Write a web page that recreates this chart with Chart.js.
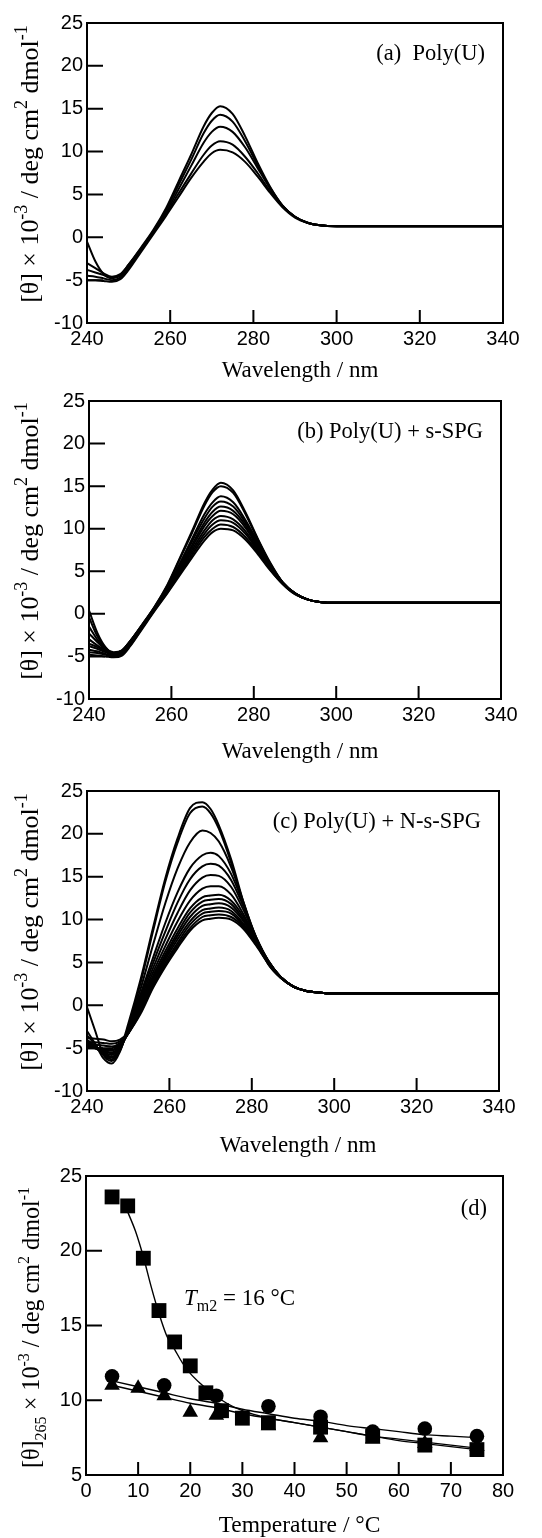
<!DOCTYPE html>
<html>
<head>
<meta charset="utf-8">
<script src="https://cdn.jsdelivr.net/npm/chart.js@4.4.1/dist/chart.umd.min.js"></script>
<style>
  body { margin: 0; background: #fff; }
  canvas { position: absolute; left: 0; }
</style>
</head>
<body>
<canvas id="panelA" width="542" height="385" style="top:0px"></canvas>
<canvas id="panelB" width="542" height="380" style="top:385px"></canvas>
<canvas id="panelC" width="542" height="395" style="top:765px"></canvas>
<canvas id="panelD" width="542" height="378" style="top:1160px"></canvas>
<script>
// wavelength grid shared by all spectra (nm)
const wavelengths = [240, 242, 244, 246, 248, 250, 253, 256, 259, 262, 265, 268, 270, 272, 275, 278, 281, 284, 287, 290, 293, 296, 300, 340];

// (a) Poly(U)
const polyU = [
  [-0.5, -2.8, -4.3, -4.8, -4.4, -3.2, -1.2, 0.9, 3.4, 6.5, 9.6, 12.9, 14.5, 15.3, 14.4, 11.8, 8.7, 5.9, 3.7, 2.4, 1.7, 1.4, 1.3, 1.3],
  [-3.0, -3.6, -4.2, -4.6, -4.3, -3.2, -1.3, 0.8, 3.2, 6.1, 9.0, 12.1, 13.6, 14.3, 13.5, 11.2, 8.4, 5.8, 3.7, 2.4, 1.7, 1.4, 1.3, 1.3],
  [-3.8, -4.1, -4.4, -4.7, -4.5, -3.4, -1.4, 0.7, 2.9, 5.6, 8.3, 11.0, 12.3, 12.9, 12.3, 10.5, 8.1, 5.7, 3.7, 2.4, 1.7, 1.4, 1.3, 1.3],
  [-4.5, -4.6, -4.8, -5.0, -4.7, -3.6, -1.5, 0.6, 2.7, 5.1, 7.4, 9.6, 10.7, 11.2, 10.8, 9.4, 7.5, 5.4, 3.6, 2.4, 1.7, 1.4, 1.3, 1.3],
  [-5.0, -5.0, -5.1, -5.2, -4.9, -3.8, -1.7, 0.4, 2.5, 4.7, 6.9, 8.8, 9.8, 10.2, 9.9, 8.8, 7.1, 5.2, 3.5, 2.3, 1.7, 1.4, 1.3, 1.3]
];

// (b) Poly(U) + s-SPG
const polyU_sSPG = [
  [0.4, -2.2, -3.9, -4.6, -4.3, -3.2, -1.2, 0.9, 3.4, 6.5, 9.7, 13.0, 14.6, 15.4, 14.5, 11.9, 8.8, 6.0, 3.7, 2.4, 1.7, 1.4, 1.3, 1.3],
  [-0.4, -2.6, -4.0, -4.6, -4.3, -3.2, -1.2, 0.9, 3.3, 6.4, 9.5, 12.7, 14.3, 15.0, 14.2, 11.7, 8.7, 5.9, 3.7, 2.4, 1.7, 1.4, 1.3, 1.3],
  [-1.5, -3.0, -4.1, -4.5, -4.3, -3.2, -1.3, 0.8, 3.1, 5.9, 8.8, 11.7, 13.1, 13.8, 13.1, 11.0, 8.4, 5.8, 3.7, 2.4, 1.7, 1.4, 1.3, 1.3],
  [-2.3, -3.3, -4.2, -4.6, -4.4, -3.3, -1.3, 0.8, 3.0, 5.7, 8.5, 11.2, 12.6, 13.2, 12.6, 10.7, 8.2, 5.7, 3.7, 2.4, 1.7, 1.4, 1.3, 1.3],
  [-3.0, -3.7, -4.3, -4.7, -4.5, -3.4, -1.4, 0.7, 2.9, 5.5, 8.1, 10.7, 12.0, 12.6, 12.1, 10.4, 8.0, 5.6, 3.7, 2.4, 1.7, 1.4, 1.3, 1.3],
  [-3.5, -3.9, -4.4, -4.8, -4.6, -3.5, -1.4, 0.7, 2.8, 5.3, 7.8, 10.3, 11.5, 12.1, 11.7, 10.1, 7.8, 5.5, 3.6, 2.4, 1.7, 1.4, 1.3, 1.3],
  [-3.8, -4.1, -4.5, -4.9, -4.6, -3.5, -1.5, 0.6, 2.7, 5.1, 7.5, 9.8, 11.0, 11.5, 11.1, 9.7, 7.6, 5.4, 3.6, 2.4, 1.7, 1.4, 1.3, 1.3],
  [-4.2, -4.4, -4.7, -5.0, -4.7, -3.6, -1.5, 0.6, 2.6, 4.9, 7.2, 9.4, 10.5, 11.0, 10.7, 9.4, 7.4, 5.3, 3.6, 2.4, 1.7, 1.4, 1.3, 1.3],
  [-4.5, -4.6, -4.8, -5.0, -4.8, -3.7, -1.6, 0.5, 2.5, 4.7, 6.9, 9.0, 10.0, 10.5, 10.2, 9.0, 7.2, 5.2, 3.5, 2.3, 1.7, 1.4, 1.3, 1.3],
  [-4.8, -4.9, -5.0, -5.1, -4.9, -3.8, -1.7, 0.4, 2.4, 4.5, 6.6, 8.6, 9.6, 10.0, 9.8, 8.7, 7.0, 5.1, 3.5, 2.3, 1.7, 1.4, 1.3, 1.3]
];

// (c) Poly(U) + N-s-SPG
const polyU_NsSPG = [
  [-0.2, -3.0, -5.8, -6.5, -5.2, -2.2, 3.0, 9.0, 14.8, 19.5, 23.0, 23.7, 22.9, 21.0, 17.0, 12.0, 7.6, 4.8, 3.2, 2.2, 1.7, 1.5, 1.4, 1.4],
  [-3.0, -4.5, -6.2, -6.8, -5.4, -2.5, 2.6, 8.6, 14.4, 19.0, 22.4, 23.2, 22.4, 20.6, 16.6, 11.8, 7.5, 4.8, 3.2, 2.2, 1.7, 1.5, 1.4, 1.4],
  [-3.5, -4.6, -5.8, -6.3, -5.3, -2.7, 1.9, 7.0, 11.9, 16.0, 19.0, 20.4, 20.1, 19.1, 16.1, 12.0, 7.9, 5.0, 3.2, 2.2, 1.7, 1.5, 1.4, 1.4],
  [-4.0, -4.8, -5.7, -6.1, -5.2, -2.8, 1.3, 5.5, 9.6, 13.2, 16.0, 17.5, 17.8, 17.4, 15.3, 11.8, 8.0, 5.1, 3.3, 2.2, 1.7, 1.5, 1.4, 1.4],
  [-4.2, -4.9, -5.6, -6.0, -5.1, -2.9, 1.0, 4.9, 8.6, 12.0, 14.7, 16.2, 16.5, 16.3, 14.6, 11.5, 8.0, 5.2, 3.3, 2.2, 1.7, 1.5, 1.4, 1.4],
  [-4.4, -5.0, -5.5, -5.8, -5.0, -3.0, 0.7, 4.3, 7.7, 10.8, 13.4, 14.9, 15.2, 15.1, 13.8, 11.1, 7.9, 5.2, 3.3, 2.2, 1.7, 1.5, 1.4, 1.4],
  [-4.6, -5.0, -5.4, -5.6, -4.9, -3.1, 0.4, 3.8, 6.9, 9.8, 12.2, 13.6, 13.9, 13.9, 12.9, 10.6, 7.7, 5.2, 3.3, 2.2, 1.7, 1.5, 1.4, 1.4],
  [-4.7, -5.0, -5.3, -5.5, -4.8, -3.2, 0.2, 3.4, 6.3, 9.0, 11.3, 12.6, 12.8, 12.9, 12.2, 10.3, 7.6, 5.2, 3.3, 2.2, 1.7, 1.5, 1.4, 1.4],
  [-4.8, -5.0, -5.2, -5.3, -4.7, -3.3, 0.0, 3.1, 5.9, 8.5, 10.8, 12.1, 12.3, 12.4, 11.8, 10.0, 7.5, 5.1, 3.3, 2.2, 1.7, 1.5, 1.4, 1.4],
  [-4.9, -5.0, -5.1, -5.2, -4.6, -3.3, -0.2, 2.9, 5.6, 8.1, 10.3, 11.6, 11.8, 11.9, 11.4, 9.8, 7.4, 5.1, 3.3, 2.2, 1.7, 1.5, 1.4, 1.4],
  [-5.0, -5.0, -5.0, -5.0, -4.5, -3.3, -0.4, 2.6, 5.3, 7.7, 9.8, 11.1, 11.3, 11.4, 11.0, 9.5, 7.3, 5.0, 3.3, 2.2, 1.7, 1.5, 1.4, 1.4],
  [-4.6, -4.6, -4.7, -4.8, -4.4, -3.3, -0.6, 2.4, 5.0, 7.3, 9.4, 10.7, 10.9, 11.0, 10.7, 9.3, 7.2, 5.0, 3.3, 2.2, 1.7, 1.5, 1.4, 1.4],
  [-4.3, -4.3, -4.4, -4.5, -4.2, -3.3, -0.8, 2.2, 4.7, 7.0, 9.0, 10.3, 10.5, 10.6, 10.3, 9.1, 7.1, 5.0, 3.3, 2.2, 1.7, 1.5, 1.4, 1.4],
  [-3.8, -3.9, -4.0, -4.2, -4.0, -3.2, -1.0, 2.0, 4.5, 6.7, 8.7, 9.9, 10.1, 10.2, 10.0, 8.9, 7.0, 4.9, 3.3, 2.2, 1.7, 1.5, 1.4, 1.4]
];

// (d) [θ]265 vs temperature
const squareTemps = [5, 8, 11, 14, 17, 20, 23, 26, 30, 35, 45, 55, 65, 75];
const squareVals  = [23.6, 23.0, 19.5, 16.0, 13.9, 12.3, 10.5, 9.3, 8.8, 8.5, 8.2, 7.6, 7.0, 6.7];
const circleTemps = [5, 15, 25, 35, 45, 55, 65, 75];
const circleVals  = [11.6, 11.0, 10.3, 9.6, 8.9, 7.9, 8.1, 7.6];
const triTemps    = [5, 10, 15, 20, 25, 35, 45, 55, 65, 75];
const triVals     = [11.0, 10.8, 10.3, 9.2, 9.0, 8.3, 7.5, 7.4, 7.1, 6.9];
const squareFitT  = [8, 9.5, 11, 12.5, 14, 15.5, 17, 18.5, 20, 22, 24, 27, 30, 35, 40, 45, 50, 55, 60, 65, 70, 75];
const squareFitV  = [22.6, 21.3, 19.6, 17.6, 15.8, 14.3, 13.4, 12.5, 11.8, 11.1, 10.5, 9.8, 9.3, 8.8, 8.5, 8.2, 7.9, 7.6, 7.3, 7.1, 6.9, 6.7];
const circleFitT  = [5, 10, 15, 20, 25, 30, 35, 40, 45, 50, 55, 60, 65, 70, 75];
const circleFitV  = [11.3, 10.9, 10.5, 10.1, 9.8, 9.4, 9.1, 8.8, 8.6, 8.3, 8.1, 7.9, 7.7, 7.6, 7.5];
const triFitT     = [5, 10, 15, 20, 25, 30, 35, 40, 45, 50, 55, 60, 65, 70, 75];
const triFitV     = [11.0, 10.6, 10.2, 9.8, 9.5, 9.1, 8.8, 8.5, 8.2, 7.9, 7.6, 7.4, 7.2, 7.0, 6.8];

const wavelengthTicks = [240, 260, 280, 300, 320, 340];
const thetaTicks = [-10, -5, 0, 5, 10, 15, 20, 25];
const tempTicks = [0, 10, 20, 30, 40, 50, 60, 70, 80];
const theta265Ticks = [5, 10, 15, 20, 25];

const SERIF = '"Liberation Serif", "Times New Roman", serif';
Chart.defaults.font.family = '"Liberation Sans", Arial, sans-serif';
Chart.defaults.font.size = 20;
Chart.defaults.color = '#000';

const yTitleMain = [['[θ] × 10', 'n'], ['-3', 'sup'], [' / deg cm', 'n'], ['2', 'sup'], [' dmol', 'n'], ['-1', 'sup']];
const yTitleD = [['[θ]', 'n'], ['265', 'sub'], [' × 10', 'n'], ['-3', 'sup'], [' / deg cm', 'n'], ['2', 'sup'], [' dmol', 'n'], ['-1', 'sup']];

function richFont(style, size) {
  if (style === 'sup' || style === 'sub') return Math.round(size * 0.68) + 'px ' + SERIF;
  if (style === 'i') return 'italic ' + size + 'px ' + SERIF;
  return size + 'px ' + SERIF;
}

function richWidth(ctx, parts, size) {
  let w = 0;
  parts.forEach(p => { ctx.font = richFont(p[1], size); w += ctx.measureText(p[0]).width; });
  return w;
}

function drawRich(ctx, parts, x, y, size, align) {
  const total = richWidth(ctx, parts, size);
  let cx = align === 'center' ? x - total / 2 : align === 'right' ? x - total : x;
  ctx.textAlign = 'left';
  ctx.textBaseline = 'alphabetic';
  parts.forEach(p => {
    ctx.font = richFont(p[1], size);
    const dy = p[1] === 'sup' ? -size * 0.4 : p[1] === 'sub' ? size * 0.28 : 0;
    ctx.fillText(p[0], cx, y + dy);
    cx += ctx.measureText(p[0]).width;
  });
}

// box, inner ticks, titles and labels
const frame = {
  id: 'frame',
  afterDraw(chart, args, o) {
    const {ctx, chartArea: a, scales: {x, y}} = chart;
    ctx.save();
    ctx.strokeStyle = '#000';
    ctx.lineWidth = 2;
    ctx.beginPath();
    x.ticks.forEach(t => {
      const px = x.getPixelForValue(t.value);
      ctx.moveTo(px, a.bottom);
      ctx.lineTo(px, a.bottom - 13);
    });
    y.ticks.forEach(t => {
      const py = y.getPixelForValue(t.value);
      ctx.moveTo(a.left, py);
      ctx.lineTo(a.left + 16, py);
    });
    ctx.stroke();
    ctx.strokeRect(a.left, a.top, a.right - a.left, a.bottom - a.top);

    ctx.fillStyle = '#000';
    ctx.font = o.xTitleSize + 'px ' + SERIF;
    ctx.textAlign = 'center';
    ctx.textBaseline = 'alphabetic';
    ctx.fillText(o.xTitle, (a.left + a.right) / 2 + 5, a.bottom + o.xTitleGap);

    // rotated y title, scaled to the length seen in the figure
    let size = 22;
    size = size * o.yTitleLen / richWidth(ctx, o.yTitle, size);
    ctx.save();
    ctx.translate(o.yTitleX, (a.top + a.bottom) / 2 + o.yTitleShift);
    ctx.rotate(-Math.PI / 2);
    drawRich(ctx, o.yTitle, 0, size * 0.33, size, 'center');
    ctx.restore();

    drawRich(ctx, [[o.label, 'n']], a.right - o.labelRight, a.top + o.labelDown, o.labelSize, 'right');

    if (o.note) {
      drawRich(ctx, o.note, x.getPixelForValue(o.noteAt[0]), y.getPixelForValue(o.noteAt[1]), 23, 'left');
    }
    ctx.restore();
  }
};

function axisOptions(box, xr, yr) {
  return {
    responsive: false,
    animation: false,
    layout: {padding: {top: box.top, right: box.right, left: 0, bottom: 0}},
    plugins: {legend: {display: false}, tooltip: {enabled: false}},
    scales: {
      x: {
        type: 'linear', min: xr.min, max: xr.max,
        afterBuildTicks: s => { s.ticks = xr.ticks.map(v => ({value: v})); },
        ticks: {padding: 4, maxRotation: 0, autoSkip: false},
        grid: {display: false, drawTicks: false},
        border: {display: false},
        afterFit: s => { s.height = box.xh; }
      },
      y: {
        type: 'linear', min: yr.min, max: yr.max,
        afterBuildTicks: s => { s.ticks = yr.ticks.map(v => ({value: v})); },
        ticks: {padding: 4, autoSkip: false},
        grid: {display: false, drawTicks: false},
        border: {display: false},
        afterFit: s => { s.width = box.left; }
      }
    }
  };
}

function spectrum(id, curves, box, label, xGap) {
  const datasets = curves.map(c => ({
    data: wavelengths.map((w, i) => ({x: w, y: c[i]})),
    showLine: true,
    borderColor: '#000',
    borderWidth: 2,
    pointRadius: 0,
    cubicInterpolationMode: 'monotone'
  }));
  const options = axisOptions(box,
    {min: 240, max: 340, ticks: wavelengthTicks},
    {min: -10, max: 25, ticks: thetaTicks});
  options.plugins.frame = {
    xTitle: 'Wavelength / nm', xTitleGap: xGap, xTitleSize: 23,
    yTitle: yTitleMain, yTitleLen: 277, yTitleX: 29, yTitleShift: -9,
    label: label, labelRight: 18, labelDown: 37, labelSize: 22.5
  };
  new Chart(document.getElementById(id), {type: 'scatter', data: {datasets}, options, plugins: [frame]});
}

spectrum('panelA', polyU, {left: 87, right: 39, top: 23, xh: 62}, '(a)  Poly(U)', 54);
spectrum('panelB', polyU_sSPG, {left: 89, right: 41, top: 14, xh: 66}, '(b) Poly(U) + s-SPG', 59);
spectrum('panelC', polyU_NsSPG, {left: 87, right: 43, top: 26, xh: 69}, '(c) Poly(U) + N-s-SPG', 61);

// (d)
const pts = (xs, ys) => xs.map((v, i) => ({x: v, y: ys[i]}));
const optD = axisOptions({left: 86, right: 39, top: 14, xh: 63},
  {min: 0, max: 80, ticks: tempTicks},
  {min: 5, max: 25, ticks: theta265Ticks});
optD.plugins.frame = {
  xTitle: 'Temperature / °C', xTitleGap: 57, xTitleSize: 23.5,
  yTitle: yTitleD, yTitleLen: 283, yTitleX: 31, yTitleShift: 2,
  label: '(d)', labelRight: 16, labelDown: 39, labelSize: 22.5,
  note: [['T', 'i'], ['m2', 'sub'], [' = 16 °C', 'n']], noteAt: [18.8, 16.4]
};
new Chart(document.getElementById('panelD'), {
  type: 'scatter',
  data: {
    datasets: [
      {data: pts(squareTemps, squareVals), pointStyle: 'rect', pointRadius: 10.5, backgroundColor: '#000', borderColor: '#000', borderWidth: 0},
      {data: pts(circleTemps, circleVals), pointStyle: 'circle', pointRadius: 7.3, backgroundColor: '#000', borderColor: '#000', borderWidth: 0},
      {data: pts(triTemps, triVals), pointStyle: 'triangle', pointRadius: 9, backgroundColor: '#000', borderColor: '#000', borderWidth: 0},
      {data: pts(squareFitT, squareFitV), showLine: true, pointRadius: 0, borderColor: '#000', borderWidth: 1.4, cubicInterpolationMode: 'monotone'},
      {data: pts(circleFitT, circleFitV), showLine: true, pointRadius: 0, borderColor: '#000', borderWidth: 1.4, cubicInterpolationMode: 'monotone'},
      {data: pts(triFitT, triFitV), showLine: true, pointRadius: 0, borderColor: '#000', borderWidth: 1.4, cubicInterpolationMode: 'monotone'}
    ]
  },
  options: optD,
  plugins: [frame]
});
</script>
</body>
</html>
